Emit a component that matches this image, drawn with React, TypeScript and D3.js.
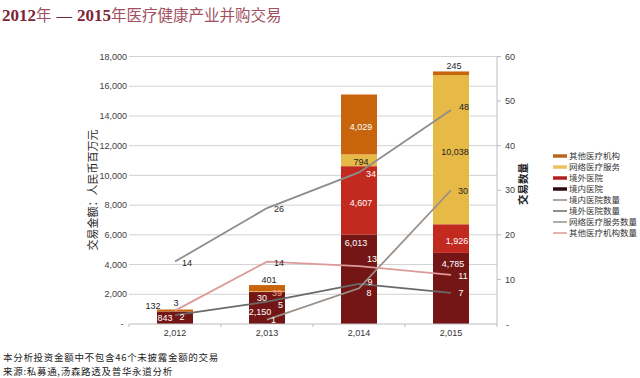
import React from 'react';
import * as d3 from 'd3';

// ---- data ----
const years = ['2,012', '2,013', '2,014', '2,015'];
const domesticAmt = [843, 2150, 6013, 4785]; // 境内医院
const overseasAmt = [0, 30, 4607, 1926]; // 境外医院
const onlineAmt = [0, 39, 794, 10038]; // 网络医疗服务
const otherAmt = [132, 401, 4029, 245]; // 其他医疗机构
const domesticCnt: (number | null)[] = [14, 26, 34, 48];
const overseasCnt: (number | null)[] = [2, 5, 9, 7];
const onlineCnt: (number | null)[] = [null, 1, 8, 30];
const otherCnt: (number | null)[] = [3, 14, 13, 11];
const leftTicks = [2000, 4000, 6000, 8000, 10000, 12000, 14000, 16000, 18000];
const rightTicks = [10, 20, 30, 40, 50, 60];

const barKeys = ['dom', 'over', 'online', 'other'];
const barNames = ['境内医院', '境外医院', '网络医疗服务', '其他医疗机构'];
const barColors = ['#741616', '#c2291f', '#e7b946', '#c8640c'];
const legendBarColors = ['#2e0a12', '#b21f1f', '#ebc35e', '#b8681c'];
const lineKeys = ['domCnt', 'overCnt', 'onlCnt', 'othCnt'];
const lineNames = ['境内医院数量', '境外医院数量', '网络医疗服务数量', '其他医疗机构数量'];
const lineColors = ['#8d8d8d', '#6a6a6a', '#9a9088', '#dc9a9a'];
const lineSeries = [domesticCnt, overseasCnt, onlineCnt, otherCnt];

const SANS = 'Liberation Sans, Arial, sans-serif';
const CJK = '"Noto Sans CJK SC", "Noto Sans", sans-serif';

// label nudges (offset from segment centre / point)
const barNudge: Record<string, [number, number]> = {
  'dom-0': [-10, 0],
  'other-0': [-22, -5],
  'dom-1': [-7, 4],
  'over-1': [-5, 6],
  'online-1': [10, 1.5],
  'other-1': [2, -8],
  'dom-2': [-3, -36],
  'dom-3': [2, -25],
  'over-3': [6, 2],
  'online-3': [4, 2],
  'other-3': [3, -7],
};
const lineNudge: Record<string, [number, number]> = {
  'domCnt-3': [13, -3],
  'overCnt-0': [7, 2],
  'overCnt-1': [13.5, 3],
  'overCnt-2': [11, -2],
  'overCnt-3': [10, 0],
  'onlCnt-1': [6.5, 0],
  'onlCnt-2': [10, 5],
  'othCnt-0': [1, -7.5],
  'othCnt-2': [13, -7],
};

export default function App() {
  const x = d3.scaleBand<string>().domain(years).range([129, 497]).paddingInner(0.6087).paddingOuter(0.3043);
  const yL = d3.scaleLinear().domain([0, 18000]).range([324, 56.5]);
  const yR = d3.scaleLinear().domain([0, 60]).range([324, 56.5]);
  const fmt = d3.format(',');

  const table = years.map((yr, i) => ({
    year: yr,
    dom: domesticAmt[i],
    over: overseasAmt[i],
    online: onlineAmt[i],
    other: otherAmt[i],
  }));
  const stacked = d3.stack<any>().keys(barKeys)(table);
  const bw = x.bandwidth();

  const segmentAt = (px: number, py: number): string | null => {
    for (const layer of stacked) {
      for (let i = 0; i < layer.length; i++) {
        const x0 = x(years[i])!;
        const d = layer[i];
        if (d[1] - d[0] <= 0) continue;
        if (px >= x0 && px <= x0 + bw && py <= yL(d[0]) && py >= yL(d[1])) return layer.key;
      }
    }
    return null;
  };

  const labelColor = (px: number, py: number) => {
    const s = segmentAt(px, py);
    if (s === null || s === 'online') return '#1e1e1e';
    return '#ffffff';
  };

  const lineGen = d3
    .line<number | null>()
    .defined((d) => d !== null)
    .x((_, i) => x(years[i])! + bw / 2)
    .y((d) => yR(d as number));

  const boundaries = [0, 1, 2, 3, 4].map((i) => 129 + i * x.step());

  return (
    <svg width={640} height={378} style={{ position: 'absolute', left: 0, top: 0, background: '#fff' }}>
      {/* title */}
      <text x={2} y={21} fontSize={15.5}>
        <tspan fontFamily="Liberation Serif, serif" fontWeight="bold" fontSize={17} fill="#7e2437">2012</tspan>
        <tspan fontFamily={CJK} fill="#a2505f">年</tspan>
        <tspan fontFamily={SANS} fill="#7e2437" dx={5}>—</tspan>
        <tspan fontFamily="Liberation Serif, serif" fontWeight="bold" fontSize={17} fill="#7e2437" dx={5}>2015</tspan>
        <tspan fontFamily={CJK} fill="#a2505f">年医疗健康产业并购交易</tspan>
      </text>

      {/* gridlines */}
      {leftTicks.map((t) => (
        <line key={t} x1={129} x2={497} y1={yL(t)} y2={yL(t)} stroke="#d2d2d2" strokeWidth={1} />
      ))}
      {/* left tick labels */}
      {leftTicks.map((t) => (
        <text key={'l' + t} x={127} y={yL(t)} dy="0.35em" textAnchor="end" fontFamily={SANS} fontSize={9} fill="#404040">
          {fmt(t)}
        </text>
      ))}
      <text x={122} y={yL(0)} dy="0.35em" textAnchor="middle" fontFamily={SANS} fontSize={9} fill="#404040">-</text>

      {/* right axis */}
      <line x1={497} x2={497} y1={yR(60)} y2={yR(0)} stroke="#bdbdbd" strokeWidth={1} />
      {rightTicks.map((t) => (
        <g key={'r' + t}>
          <line x1={497} x2={501} y1={yR(t)} y2={yR(t)} stroke="#bdbdbd" />
          <text x={505} y={yR(t)} dy="0.35em" fontFamily={SANS} fontSize={9} fill="#404040">
            {t}
          </text>
        </g>
      ))}
      <text x={506} y={yR(0) + 1} dy="0.35em" fontFamily={SANS} fontSize={9} fill="#404040">-</text>

      {/* bars */}
      {stacked.map((layer, li) =>
        layer.map((d, i) =>
          d[1] - d[0] > 0 ? (
            <rect
              key={layer.key + i}
              x={x(years[i])}
              width={bw}
              y={yL(d[1])}
              height={yL(d[0]) - yL(d[1])}
              fill={barColors[li]}
            />
          ) : null
        )
      )}

      {/* baseline */}
      <line x1={129} x2={497} y1={324} y2={324} stroke="#bdbdbd" strokeWidth={1} />
      {boundaries.map((bx, i) => (
        <line key={'b' + i} x1={bx} x2={bx} y1={324} y2={327} stroke="#bdbdbd" />
      ))}
      {years.map((yr) => (
        <text key={'c' + yr} x={x(yr)! + bw / 2} y={333} dy="0.35em" textAnchor="middle" fontFamily={SANS} fontSize={9} fill="#333">
          {yr}
        </text>
      ))}

      {/* lines */}
      {lineSeries.map((s, li) => (
        <path key={lineKeys[li]} d={lineGen(s) || ''} fill="none" stroke={lineColors[li]} strokeWidth={1.8} />
      ))}

      {/* bar labels */}
      {stacked.map((layer) =>
        layer.map((d, i) => {
          const v = d[1] - d[0];
          if (v <= 0) return null;
          const key = `${layer.key}-${i}`;
          const [dx, dy] = barNudge[key] || [2, 2];
          const px = x(years[i])! + bw / 2 + dx;
          const py = (yL(d[0]) + yL(d[1])) / 2 + dy;
          const fill = key === 'online-1' ? '#f2a585' : labelColor(px, py);
          return (
            <text key={'bl' + key} x={px} y={py} dy="0.35em" textAnchor="middle" fontFamily={SANS} fontSize={9} fill={fill}>
              {fmt(v)}
            </text>
          );
        })
      )}

      {/* line labels */}
      {lineSeries.map((s, li) =>
        s.map((v, i) => {
          if (v === null) return null;
          const key = `${lineKeys[li]}-${i}`;
          const [dx, dy] = lineNudge[key] || [12, 1];
          const px = x(years[i])! + bw / 2 + dx;
          const py = yR(v) + dy;
          return (
            <text key={'ll' + key} x={px} y={py} dy="0.35em" textAnchor="middle" fontFamily={SANS} fontSize={9} fill={labelColor(px, py)}>
              {v}
            </text>
          );
        })
      )}

      {/* axis titles */}
      <text transform="translate(97,190) rotate(-90)" textAnchor="middle" fontFamily={CJK} fontSize={11} fill="#1e1e1e">
        交易金额：人民币百万元
      </text>
      <text transform="translate(527,184) rotate(-90)" textAnchor="middle" fontFamily={CJK} fontSize={10.5} fontWeight="bold" fill="#1e1e1e">
        交易数量
      </text>

      {/* legend */}
      {[3, 2, 1, 0].map((bi, k) => (
        <g key={'lg' + bi} transform={`translate(553,${156 + k * 11})`}>
          <line x1={0} x2={14} y1={0} y2={0} stroke={legendBarColors[bi]} strokeWidth={3.5} />
          <text x={16} y={0} dy="0.35em" fontFamily={CJK} fontSize={8.5} fill="#333">
            {barNames[bi]}
          </text>
        </g>
      ))}
      {lineNames.map((n, li) => (
        <g key={'lgl' + li} transform={`translate(553,${200 + li * 11})`}>
          <line x1={0} x2={14} y1={0} y2={0} stroke={lineColors[li]} strokeWidth={1.5} />
          <text x={16} y={0} dy="0.35em" fontFamily={CJK} fontSize={8.5} fill="#333">
            {n}
          </text>
        </g>
      ))}

      {/* footnotes */}
      <text x={3} y={357.5} dy="0.35em" fontFamily={CJK} fontSize={9.5} letterSpacing={0.7} fill="#222">
        本分析投资金额中不包含46个未披露金额的交易
      </text>
      <text x={3} y={371.5} dy="0.35em" fontFamily={CJK} fontSize={9.5} letterSpacing={0.7} fill="#222">
        来源:私募通,汤森路透及普华永道分析
      </text>
    </svg>
  );
}
